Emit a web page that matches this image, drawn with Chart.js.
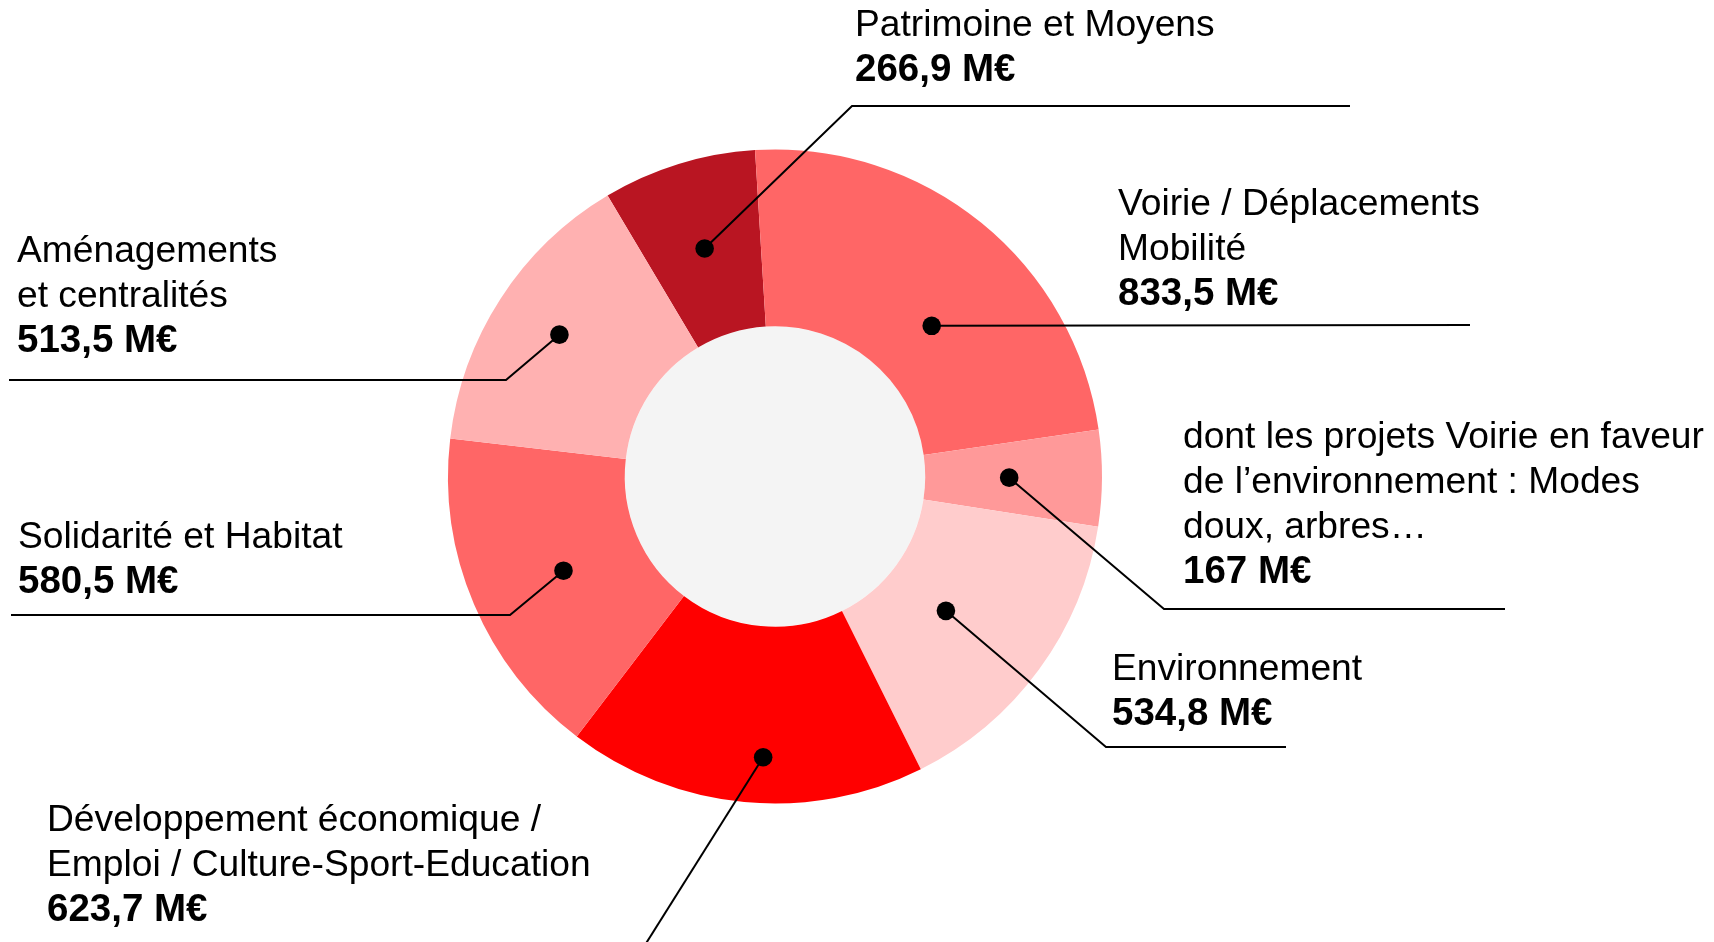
<!DOCTYPE html>
<html lang="fr">
<head>
<meta charset="utf-8">
<title>Répartition des investissements</title>
<script src="https://cdn.jsdelivr.net/npm/chart.js@4/dist/chart.umd.min.js"></script>
<style>
  html, body { margin: 0; padding: 0; background: #fff; }
  #chart { display: block; }
</style>
</head>
<body>
<canvas id="chart" width="1714" height="942"></canvas>
<script>
// Catégories, une ligne de texte par entrée
const categories = [
  ['Patrimoine et Moyens'],
  ['Voirie / Déplacements', 'Mobilité'],
  ['dont les projets Voirie en faveur', 'de l’environnement : Modes', 'doux, arbres…'],
  ['Environnement'],
  ['Développement économique /', 'Emploi / Culture-Sport-Education'],
  ['Solidarité et Habitat'],
  ['Aménagements', 'et centralités']
];

// Montants en M€
const values = [266.9, 833.5, 167, 534.8, 623.7, 580.5, 513.5];

const colors = ['#b91522', '#ff6666', '#ff9999', '#ffcccc', '#ff0000', '#ff6666', '#ffb1b1'];

// Placement des étiquettes : point dans le segment (décalage d'angle en degrés,
// profondeur dans l'anneau), tracé du trait, position du texte (ligne de base)
const callouts = [
  { angle: 0,    depth: 0.50,  path: [[852, 106], [1350, 106]], x: 855,  y: 36 },
  { angle: 7,    depth: 0.38,  path: [[1470, 325]],             x: 1118, y: 215 },
  { angle: 0,    depth: 0.475, path: [[1164, 609], [1505, 609]], x: 1183, y: 448 },
  { angle: 2,    depth: 0.38,  path: [[1106, 747], [1286, 747]], x: 1112, y: 680 },
  { angle: -3,   depth: 0.74,  path: [[645, 945]],              x: 47,   y: 831 },
  { angle: -1,   depth: 0.46,  path: [[510, 615], [11, 615]],   x: 18,   y: 548 },
  { angle: 0.4,  depth: 0.61,  path: [[506, 380], [9, 380]],    x: 17,   y: 262 }
];

const LINE_HEIGHT = 45;
const FONT = '"Liberation Sans", Arial, sans-serif';

function formatValue(v) {
  return String(v).replace('.', ',') + ' M€';
}

const calloutPlugin = {
  id: 'callouts',
  beforeDatasetsDraw(chart) {
    // disque gris au centre
    const arc = chart.getDatasetMeta(0).data[0];
    const ctx = chart.ctx;
    ctx.save();
    ctx.fillStyle = '#f4f4f4';
    ctx.beginPath();
    ctx.arc(arc.x, arc.y, arc.innerRadius, 0, Math.PI * 2);
    ctx.fill();
    ctx.restore();
  },
  afterDatasetsDraw(chart) {
    const ctx = chart.ctx;
    ctx.save();
    chart.getDatasetMeta(0).data.forEach((arc, i) => {
      const c = callouts[i];
      const a = (arc.startAngle + arc.endAngle) / 2 + c.angle * Math.PI / 180;
      const r = arc.innerRadius + c.depth * (arc.outerRadius - arc.innerRadius);
      const px = arc.x + Math.cos(a) * r;
      const py = arc.y + Math.sin(a) * r;

      ctx.strokeStyle = '#000';
      ctx.lineWidth = 2;
      ctx.beginPath();
      ctx.moveTo(px, py);
      c.path.forEach(p => ctx.lineTo(p[0], p[1]));
      ctx.stroke();

      ctx.fillStyle = '#000';
      ctx.beginPath();
      ctx.arc(px, py, 9.3, 0, Math.PI * 2);
      ctx.fill();

      ctx.textAlign = 'left';
      ctx.textBaseline = 'alphabetic';
      const lines = categories[i];
      ctx.font = '37.2px ' + FONT;
      lines.forEach((t, k) => ctx.fillText(t, c.x, c.y + k * LINE_HEIGHT));
      ctx.font = 'bold 38.5px ' + FONT;
      ctx.fillText(formatValue(values[i]), c.x, c.y + lines.length * LINE_HEIGHT);
    });
    ctx.restore();
  }
};

new Chart(document.getElementById('chart'), {
  type: 'doughnut',
  data: {
    labels: categories.map(l => l.join(' ')),
    datasets: [{
      data: values,
      backgroundColor: colors,
      borderWidth: 0
    }]
  },
  options: {
    responsive: false,
    animation: false,
    rotation: -30.8,
    radius: 327,
    cutout: 150,
    layout: { padding: { left: 448, right: 612, top: 150, bottom: 139 } },
    plugins: {
      legend: { display: false },
      tooltip: { enabled: false }
    }
  },
  plugins: [calloutPlugin]
});
</script>
</body>
</html>
